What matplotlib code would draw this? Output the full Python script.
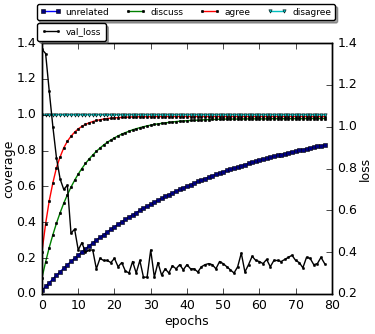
import numpy as np
import matplotlib
matplotlib.use("Agg")
import matplotlib.pyplot as plt

plt.style.use("classic")

# coverage per class, one value per epoch (0..78)
unrelated = [0.020, 0.042, 0.063, 0.084, 0.104, 0.124, 0.144, 0.163, 0.181, 0.200,
             0.217, 0.235, 0.252, 0.269, 0.285, 0.301, 0.316, 0.331, 0.346, 0.361,
             0.375, 0.389, 0.403, 0.416, 0.429, 0.442, 0.454, 0.466, 0.478, 0.490,
             0.501, 0.512, 0.523, 0.534, 0.544, 0.554, 0.564, 0.574, 0.583, 0.593,
             0.602, 0.610, 0.619, 0.628, 0.636, 0.644, 0.652, 0.660, 0.667, 0.675,
             0.682, 0.689, 0.696, 0.703, 0.709, 0.716, 0.722, 0.728, 0.734, 0.740,
             0.746, 0.752, 0.757, 0.763, 0.768, 0.773, 0.778, 0.783, 0.788, 0.793,
             0.797, 0.802, 0.806, 0.810, 0.815, 0.819, 0.823, 0.827, 0.831]
discuss = [0.090, 0.179, 0.259, 0.330, 0.395, 0.453, 0.506, 0.553, 0.596, 0.634,
           0.669, 0.700, 0.728, 0.753, 0.775, 0.796, 0.814, 0.831, 0.846, 0.859,
           0.871, 0.882, 0.892, 0.900, 0.908, 0.916, 0.922, 0.928, 0.933, 0.938,
           0.942, 0.946, 0.949, 0.952, 0.955, 0.957, 0.960, 0.962, 0.964, 0.965,
           0.967, 0.968, 0.969, 0.970, 0.971, 0.972, 0.973, 0.974, 0.974, 0.975,
           0.975, 0.976, 0.976, 0.976, 0.976, 0.976, 0.977, 0.977, 0.977, 0.977,
           0.977, 0.977, 0.977, 0.978, 0.978, 0.978, 0.978, 0.978, 0.978, 0.978,
           0.978, 0.978, 0.978, 0.979, 0.979, 0.979, 0.979, 0.979, 0.979]
agree = [0.236, 0.392, 0.520, 0.620, 0.705, 0.765, 0.815, 0.852, 0.880, 0.903,
         0.921, 0.935, 0.946, 0.955, 0.962, 0.968, 0.972, 0.976, 0.979, 0.981,
         0.983, 0.984, 0.985, 0.986, 0.987, 0.988, 0.988, 0.989, 0.989, 0.989,
         0.989, 0.990, 0.990, 0.990, 0.990, 0.990, 0.990, 0.990, 0.990, 0.990,
         0.990, 0.990, 0.990, 0.990, 0.990, 0.990, 0.990, 0.990, 0.990, 0.990,
         0.990, 0.990, 0.990, 0.990, 0.990, 0.990, 0.990, 0.990, 0.990, 0.990,
         0.990, 0.990, 0.990, 0.990, 0.990, 0.990, 0.990, 0.990, 0.990, 0.990,
         0.990, 0.990, 0.990, 0.990, 0.990, 0.990, 0.990, 0.990, 0.990]
disagree = [0.998, 0.999, 0.999, 1.000, 1.000, 1.000, 1.000, 1.000, 1.000, 1.000,
            1.000, 1.000, 1.000, 1.000, 1.000, 1.000, 1.000, 1.000, 1.000, 1.000,
            1.000, 1.000, 1.000, 1.000, 1.000, 1.000, 1.000, 1.000, 1.000, 1.000,
            1.000, 1.000, 1.000, 1.000, 1.000, 1.000, 1.000, 1.000, 1.000, 1.000,
            1.000, 1.000, 1.000, 1.000, 1.000, 1.000, 1.000, 1.000, 1.000, 1.000,
            1.000, 1.000, 1.000, 1.000, 1.000, 1.000, 1.000, 1.000, 1.000, 1.000,
            1.000, 1.000, 1.000, 1.000, 1.000, 1.000, 1.000, 1.000, 1.000, 1.000,
            1.000, 1.000, 1.000, 1.000, 1.000, 1.000, 1.000, 1.000, 1.000]
val_loss = [1.37, 1.35, 1.17, 1.00, 0.85, 0.75, 0.70, 0.72, 0.49, 0.51,
            0.41, 0.445, 0.40, 0.41, 0.41, 0.32, 0.37, 0.36, 0.36, 0.35,
            0.37, 0.33, 0.35, 0.31, 0.30, 0.355, 0.30, 0.36, 0.28, 0.28,
            0.41, 0.28, 0.35, 0.29, 0.32, 0.30, 0.335, 0.32, 0.34, 0.315,
            0.34, 0.32, 0.32, 0.305, 0.33, 0.34, 0.345, 0.34, 0.32, 0.355,
            0.345, 0.33, 0.315, 0.30, 0.33, 0.395, 0.305, 0.34, 0.38, 0.36,
            0.355, 0.345, 0.365, 0.33, 0.36, 0.36, 0.355, 0.365, 0.375, 0.385,
            0.36, 0.35, 0.325, 0.375, 0.37, 0.34, 0.345, 0.375, 0.345]
epochs = np.arange(len(val_loss))

fs = 9
fig = plt.figure(figsize=(3.75, 3.34), dpi=100, facecolor="white")
ax = fig.add_axes([0.112, 0.12, 0.773, 0.751])
ax2 = ax.twinx()

mk = dict(mec="k", mew=0.4, lw=1)
l1, = ax.plot(epochs, unrelated, "b-", marker="s", ms=2.4, mfc="navy", label="unrelated", **mk)
l2, = ax.plot(epochs, discuss, "g-", marker="o", ms=1.8, mfc="k", label="discuss", **mk)
l3, = ax.plot(epochs, agree, "r-", marker="o", ms=1.8, mfc="k", label="agree", **mk)
l4, = ax.plot(epochs, disagree, "c-", marker="v", ms=2.4, mfc="c", label="disagree", **mk)
l5, = ax2.plot(epochs, val_loss, "k-", marker="o", ms=1.6, mfc="k", label="val_loss", **mk)

ax.set_xlim(0, 80)
ax.set_ylim(0, 1.4)
ax2.set_ylim(0.2, 1.4)
ax.set_xticks(np.arange(0, 81, 10))
ax.set_yticks(np.arange(0, 1.41, 0.2))
ax2.set_yticks(np.arange(0.2, 1.41, 0.2))
ax.tick_params(labelsize=fs, length=4)
ax2.tick_params(labelsize=fs, length=4)
ax.set_xlabel("epochs", fontsize=fs, labelpad=2)
ax.set_ylabel("coverage", fontsize=fs, labelpad=1)
ax2.set_ylabel("loss", fontsize=fs, labelpad=1)

leg1 = fig.legend(handles=[l1, l2, l3, l4], loc="upper left", ncol=4, mode="expand",
                  bbox_to_anchor=(0.098, 0.988, 0.795, 0.0), borderaxespad=0,
                  fontsize=6.5, numpoints=2, fancybox=True, shadow=True,
                  borderpad=0.4, handlelength=2.2, columnspacing=1.0,
                  handletextpad=0.6)
leg2 = fig.legend(handles=[l5], loc="upper left", bbox_to_anchor=(0.098, 0.93),
                  borderaxespad=0, fontsize=6.5, numpoints=2, fancybox=True,
                  shadow=True, borderpad=0.45, handlelength=2.2, handletextpad=0.6)

fig.savefig("out.png", dpi=100, facecolor="white")
